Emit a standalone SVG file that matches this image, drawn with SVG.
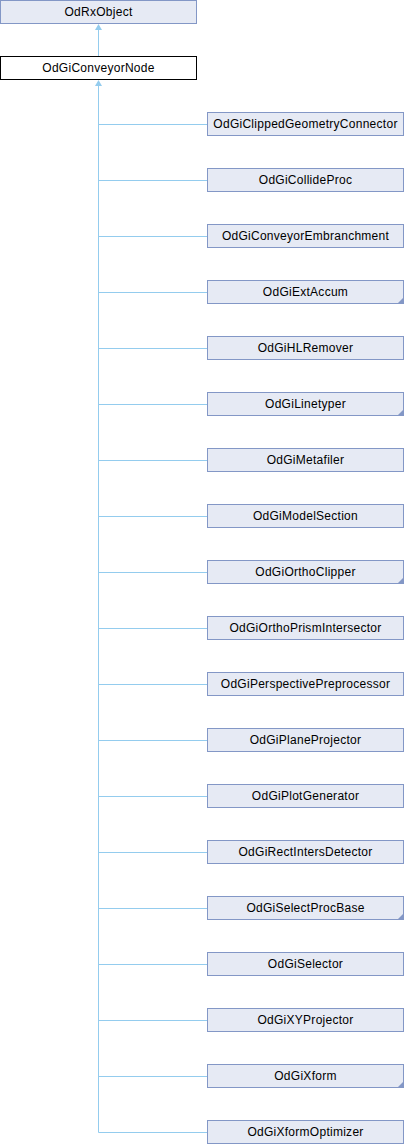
<svg xmlns="http://www.w3.org/2000/svg" width="404" height="1144" viewBox="0 0 404 1144">
<style>
.box{fill:#E6EAF4;stroke:#8397C6;stroke-width:1}
.cur{fill:#FFFFFF;stroke:#000000;stroke-width:1}
.lbl{font-family:"Liberation Sans",Arial,sans-serif;font-size:12px;letter-spacing:0.27px;fill:#000;text-anchor:middle}
.edge{stroke:#94CCEE;stroke-width:1;fill:none}
.ah{fill:#94CCEE}
.tri{fill:#8397C6}
</style>
<rect width="404" height="1144" fill="#FFFFFF"/>
<g id="connectors">
<path class="edge" d="M98.5,30V56 M98.5,85V1132.5"/>
<polygon class="ah" points="98.5,24 95,30 102,30"/>
<polygon class="ah" points="98.5,80 95,86 102,86"/>
<path class="edge" d="M98.5,124.5H207 M98.5,180.5H207 M98.5,236.5H207 M98.5,292.5H207 M98.5,348.5H207 M98.5,404.5H207 M98.5,460.5H207 M98.5,516.5H207 M98.5,572.5H207 M98.5,628.5H207 M98.5,684.5H207 M98.5,740.5H207 M98.5,796.5H207 M98.5,852.5H207 M98.5,908.5H207 M98.5,964.5H207 M98.5,1020.5H207 M98.5,1076.5H207 M98.5,1132.5H207"/>
</g>
<g id="OdRxObject"><rect class="box" x="0.5" y="0.5" width="196" height="23"/><text class="lbl" x="98.5" y="16">OdRxObject</text></g>
<g id="OdGiConveyorNode"><rect class="cur" x="0.5" y="56.5" width="196" height="23"/><text class="lbl" x="98.5" y="72">OdGiConveyorNode</text></g>
<g id="OdGiClippedGeometryConnector"><rect class="box" x="207.5" y="112.5" width="196" height="23"/><text class="lbl" x="305.5" y="128">OdGiClippedGeometryConnector</text></g>
<g id="OdGiCollideProc"><rect class="box" x="207.5" y="168.5" width="196" height="23"/><text class="lbl" x="305.5" y="184">OdGiCollideProc</text></g>
<g id="OdGiConveyorEmbranchment"><rect class="box" x="207.5" y="224.5" width="196" height="23"/><text class="lbl" x="305.5" y="240">OdGiConveyorEmbranchment</text></g>
<g id="OdGiExtAccum"><rect class="box" x="207.5" y="280.5" width="196" height="23"/><polygon class="tri" points="404,297 404,304 397,304"/><text class="lbl" x="305.5" y="296">OdGiExtAccum</text></g>
<g id="OdGiHLRemover"><rect class="box" x="207.5" y="336.5" width="196" height="23"/><text class="lbl" x="305.5" y="352">OdGiHLRemover</text></g>
<g id="OdGiLinetyper"><rect class="box" x="207.5" y="392.5" width="196" height="23"/><polygon class="tri" points="404,409 404,416 397,416"/><text class="lbl" x="305.5" y="408">OdGiLinetyper</text></g>
<g id="OdGiMetafiler"><rect class="box" x="207.5" y="448.5" width="196" height="23"/><text class="lbl" x="305.5" y="464">OdGiMetafiler</text></g>
<g id="OdGiModelSection"><rect class="box" x="207.5" y="504.5" width="196" height="23"/><text class="lbl" x="305.5" y="520">OdGiModelSection</text></g>
<g id="OdGiOrthoClipper"><rect class="box" x="207.5" y="560.5" width="196" height="23"/><polygon class="tri" points="404,577 404,584 397,584"/><text class="lbl" x="305.5" y="576">OdGiOrthoClipper</text></g>
<g id="OdGiOrthoPrismIntersector"><rect class="box" x="207.5" y="616.5" width="196" height="23"/><text class="lbl" x="305.5" y="632">OdGiOrthoPrismIntersector</text></g>
<g id="OdGiPerspectivePreprocessor"><rect class="box" x="207.5" y="672.5" width="196" height="23"/><text class="lbl" x="305.5" y="688">OdGiPerspectivePreprocessor</text></g>
<g id="OdGiPlaneProjector"><rect class="box" x="207.5" y="728.5" width="196" height="23"/><text class="lbl" x="305.5" y="744">OdGiPlaneProjector</text></g>
<g id="OdGiPlotGenerator"><rect class="box" x="207.5" y="784.5" width="196" height="23"/><text class="lbl" x="305.5" y="800">OdGiPlotGenerator</text></g>
<g id="OdGiRectIntersDetector"><rect class="box" x="207.5" y="840.5" width="196" height="23"/><text class="lbl" x="305.5" y="856">OdGiRectIntersDetector</text></g>
<g id="OdGiSelectProcBase"><rect class="box" x="207.5" y="896.5" width="196" height="23"/><polygon class="tri" points="404,913 404,920 397,920"/><text class="lbl" x="305.5" y="912">OdGiSelectProcBase</text></g>
<g id="OdGiSelector"><rect class="box" x="207.5" y="952.5" width="196" height="23"/><text class="lbl" x="305.5" y="968">OdGiSelector</text></g>
<g id="OdGiXYProjector"><rect class="box" x="207.5" y="1008.5" width="196" height="23"/><text class="lbl" x="305.5" y="1024">OdGiXYProjector</text></g>
<g id="OdGiXform"><rect class="box" x="207.5" y="1064.5" width="196" height="23"/><polygon class="tri" points="404,1081 404,1088 397,1088"/><text class="lbl" x="305.5" y="1080">OdGiXform</text></g>
<g id="OdGiXformOptimizer"><rect class="box" x="207.5" y="1120.5" width="196" height="23"/><text class="lbl" x="305.5" y="1136">OdGiXformOptimizer</text></g>
</svg>
